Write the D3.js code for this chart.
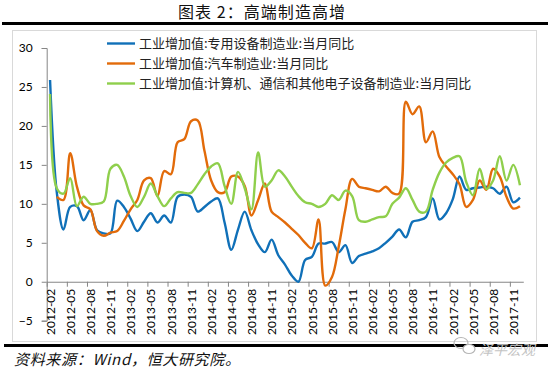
<!DOCTYPE html>
<html>
<head>
<meta charset="utf-8">
<script src="https://cdnjs.cloudflare.com/ajax/libs/d3/7.8.5/d3.min.js"></script>
<style>
  body { margin: 0; background: #fff; }
  svg { display: block; }
</style>
</head>
<body>
<svg></svg>
<script>
// monthly categories 2012-02 .. 2017-12
let months = []
for (let y = 2012; y <= 2017; y++) {
  for (let m = 1; m <= 12; m++) {
    if (y === 2012 && m < 2) continue
    months.push(y + '-' + String(m).padStart(2, '0'))
  }
}

let tickLabels = months.filter((d, i) => i % 3 === 0)
let yTicks = [-5, 0, 5, 10, 15, 20, 25, 30]

let seriesNames = [
  '工业增加值:专用设备制造业:当月同比',
  '工业增加值:汽车制造业:当月同比',
  '工业增加值:计算机、通信和其他电子设备制造业:当月同比'
]

let specialEquip = [25.9, 11.5, 6.7, 9.6, 9.7, 7.9, 9.2, 6.6, 6.2, 6.2, 10.4, 9.6, 8.1, 6.5, 7.7, 8.8, 7.6, 8.5, 7.6, 10.9,
  11.2, 10.9, 9.0, 9.6, 10.3, 10.7, 7.6, 4.1, 6.7, 9.0, 6.6, 4.8, 3.8, 5.4, 3.4, 2.2, 0.8, 0.0, 2.8, 3.2,
  4.9, 4.9, 5.1, 3.8, 4.7, 2.4, 3.3, 3.6, 3.9, 4.3, 5.0, 5.8, 6.7, 5.7, 7.7, 7.9, 8.3, 10.7, 8.0, 8.8,
  10.6, 13.5, 11.8, 12.0, 12.1, 12.2, 12.0, 11.3, 12.2, 10.2, 10.8]

let autos = [null, 10.9, 10.5, 16.5, 12.2, 9.8, 9.3, 6.5, 5.9, 6.3, 6.5, 7.8, 9.3, 10.5, 13.0, 13.3, 11.0, 14.2, 13.8, 17.9,
  18.3, 20.6, 20.7, 16.8, 13.0, 11.5, 11.5, 13.5, 13.5, 12.3, 8.5, 10.5, 12.6, 9.0, 8.3, 7.6, 6.8, 6.0, 5.0, 4.3,
  8.0, -0.5, 0.6, 4.5, 9.3, 13.2, 12.2, 12.0, 11.8, 11.6, 12.2, 11.4, 11.3, 23.1, 21.5, 22.5, 17.9, 19.3, 16.0, 14.8,
  13.8, 12.5, 9.6, 10.5, 13.0, 11.8, 14.5, 13.5, 10.9, 9.4, 9.7]

let electronics = [24.1, 12.0, 11.3, 13.3, 9.7, 10.9, 10.0, 10.0, 10.3, 14.5, 15.0, 13.5, 11.0, 9.6, 10.9, 12.6, 11.0, 9.7, 10.7, 11.5,
  11.4, 11.4, 12.5, 13.8, 14.8, 15.2, 12.3, 10.0, 14.1, 12.0, 9.3, 16.6, 12.2, 13.0, 14.3, 13.5, 12.2, 11.0, 10.2, 10.0,
  9.6, 10.0, 11.1, 10.5, 11.7, 11.0, 7.9, 7.7, 8.0, 8.3, 8.4, 10.0, 10.8, 12.0, 10.5, 9.0, 9.0, 11.8, 14.0, 15.3,
  15.9, 16.1, 12.8, 11.1, 14.5, 11.9, 13.0, 16.1, 13.0, 15.0, 12.4]

let colors = ['#1070b8', '#e26b0a', '#8fcf4c']
let series = [specialEquip, autos, electronics]

let width = 550
let height = 374

let svg = d3.select('svg').attr('width', width).attr('height', height)

let xScale = d3.scaleBand().domain(months).range([46.7, 523.3]).padding(0)
let yScale = d3.scaleLinear().domain([-5, 30]).range([320.7, 48])
let bw = xScale.bandwidth()

// title and rules
svg.append('text')
  .attr('x', 178).attr('y', 18)
  .attr('textLength', 167).attr('lengthAdjust', 'spacing')
  .style('font-family', '"Noto Sans CJK SC", sans-serif')
  .style('font-size', '16px')
  .attr('fill', '#111')
  .text('图表 2：高端制造高增')

svg.append('line').attr('x1', 2).attr('x2', 548).attr('y1', 23.5).attr('y2', 23.5)
  .attr('stroke', '#000').attr('stroke-width', 3)
svg.append('line').attr('x1', 4).attr('x2', 548).attr('y1', 345.5).attr('y2', 345.5)
  .attr('stroke', '#000').attr('stroke-width', 3)

// chart frame
svg.append('rect').attr('x', 12.5).attr('y', 30.5).attr('width', 524).attr('height', 311)
  .attr('fill', '#fff').attr('stroke', '#d9d9d9')

// y axis
let yAxis = d3.axisLeft(yScale).tickValues(yTicks).tickSize(5).tickPadding(9)
let gy = svg.append('g').attr('transform', 'translate(46.7,0)').call(yAxis)
gy.select('.domain').attr('stroke', '#868686')
gy.selectAll('.tick line').attr('stroke', '#868686')
gy.selectAll('text').style('font-family', 'Lato, sans-serif').style('font-size', '12px').attr('fill', '#000')

// x axis: tick marks at category edges, labels rotated
let xEdge = d3.scaleLinear().domain([0, months.length]).range(xScale.range())
let xAxis = d3.axisBottom(xEdge)
  .tickValues(tickLabels.map(d => months.indexOf(d)))
  .tickFormat(i => months[i])
  .tickSize(5).tickSizeOuter(0)
let gx = svg.append('g').attr('transform', 'translate(0,' + yScale(0) + ')').call(xAxis)
gx.select('.domain').attr('stroke', '#868686')
gx.selectAll('.tick line').attr('stroke', '#868686')
gx.selectAll('text')
  .attr('y', 0).attr('x', -7).attr('dy', '0.35em')
  .attr('transform', 'translate(' + (bw / 2) + ',0) rotate(-90)')
  .style('text-anchor', 'end')
  .style('font-family', 'Lato, sans-serif').style('font-size', '12px').attr('fill', '#000')

// lines
let line = d3.line()
  .defined(d => d.v !== null)
  .x(d => xScale(d.m) + bw / 2)
  .y(d => yScale(d.v))
  .curve(d3.curveCatmullRom.alpha(0.5))

series.forEach((s, k) => {
  svg.append('path')
    .datum(s.map((v, i) => ({ m: months[i], v: v })))
    .attr('fill', 'none')
    .attr('stroke', colors[k])
    .attr('stroke-width', 2.4)
    .attr('stroke-linejoin', 'round')
    .attr('d', line)
})

// legend
let legend = svg.append('g')
seriesNames.forEach((name, k) => {
  let ly = 43.5 + k * 20
  legend.append('line').attr('x1', 107).attr('x2', 135).attr('y1', ly).attr('y2', ly)
    .attr('stroke', colors[k]).attr('stroke-width', 2.4)
  legend.append('text').attr('x', 139).attr('y', ly + 4.5)
    .style('font-family', '"Noto Sans CJK SC", sans-serif').style('font-size', '13px')
    .attr('fill', '#222')
    .text(name)
})

// source
svg.append('text')
  .attr('x', 14).attr('y', 365)
  .attr('textLength', 226).attr('lengthAdjust', 'spacing')
  .style('font-family', '"Noto Sans CJK SC", sans-serif')
  .style('font-size', '15px').style('font-style', 'italic')
  .attr('fill', '#111')
  .text('资料来源：Wind，恒大研究院。')

// watermark
let wm = svg.append('g').attr('fill', 'none').attr('stroke', '#b5b5b5').attr('stroke-width', 1.2)
wm.append('ellipse').attr('cx', 461).attr('cy', 343).attr('rx', 7).attr('ry', 5.5)
wm.append('ellipse').attr('cx', 469).attr('cy', 349).attr('rx', 6).attr('ry', 4.5).attr('fill', '#fff')
svg.append('text')
  .attr('x', 479).attr('y', 355)
  .style('font-family', '"Noto Sans CJK SC", sans-serif')
  .style('font-size', '14px').style('font-style', 'italic')
  .attr('fill', '#c4c4c4')
  .text('泽平宏观')
</script>
</body>
</html>
